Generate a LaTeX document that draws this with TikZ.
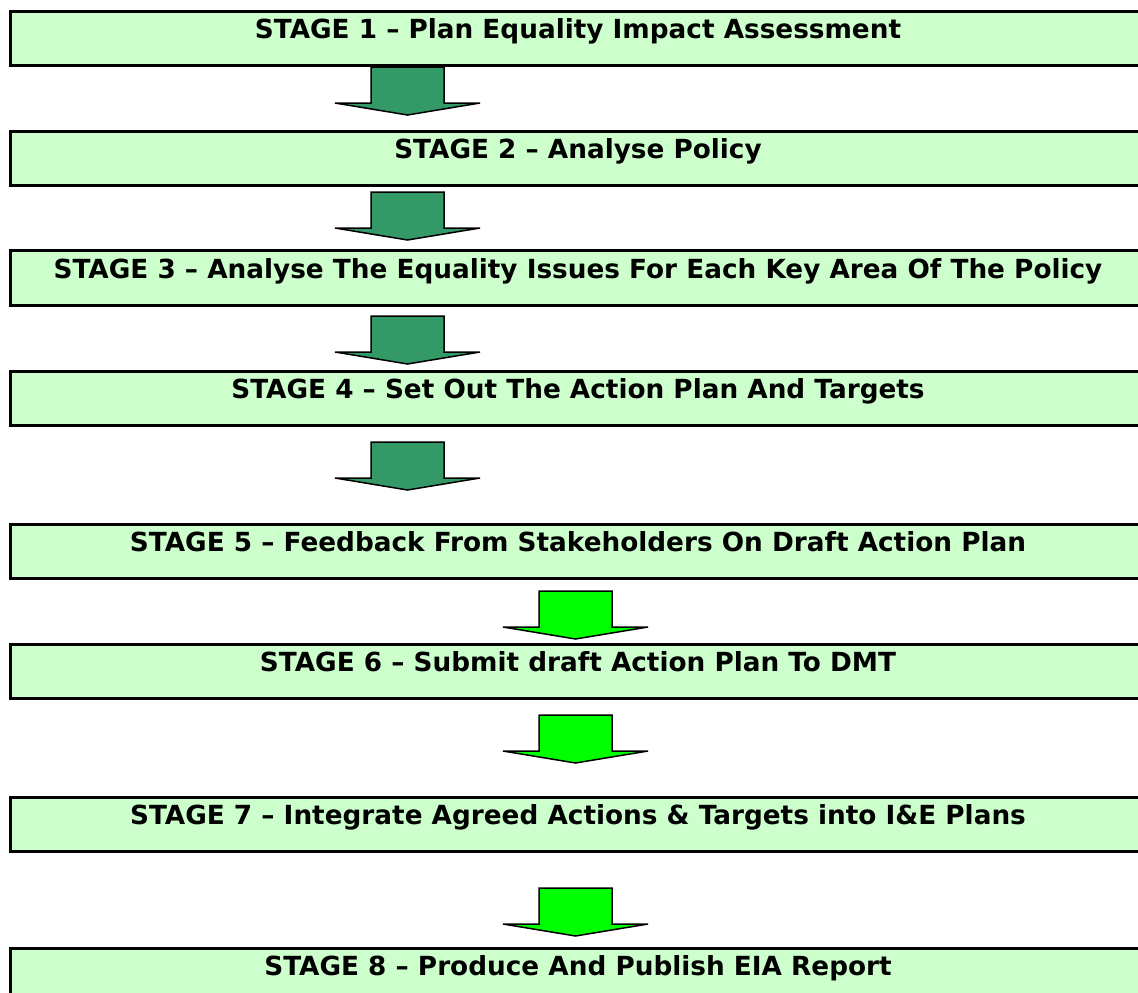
\documentclass[tikz,border=0pt]{standalone}
\usepackage{fontspec}
\setmainfont{DejaVu Sans}
\definecolor{boxfill}{HTML}{CCFFCC}
\definecolor{darkarrow}{HTML}{339966}
\definecolor{brightarrow}{HTML}{00FF00}
\begin{document}
\begin{tikzpicture}[x=1pt,y=-1pt,
  stagebox/.style={draw=black,line width=3pt,fill=boxfill,minimum width=1141pt,minimum height=54pt,inner sep=0pt,anchor=north west},
  stagetext/.style={anchor=base,inner sep=0pt,font=\fontsize{26.3}{30}\selectfont\bfseries},
  blockarrow/.style={draw=black,line width=1.5pt,line join=miter}]
\useasboundingbox (0,0) rectangle (1138,993);
\clip (0,0) rectangle (1138,993);
\fill[white] (0,0) rectangle (1138,993);
% boxes
\node[stagebox] (b1) at (9,10) {};
\node[stagebox] (b2) at (9,130) {};
\node[stagebox,minimum height=55pt] (b3) at (9,249) {};
\node[stagebox] (b4) at (9,370) {};
\node[stagebox] (b5) at (9,523) {};
\node[stagebox] (b6) at (9,643) {};
\node[stagebox] (b7) at (9,796) {};
\node[stagebox] (b8) at (9,947) {};
% texts
\node[stagetext] (t1) at (578,38) {STAGE 1 – Plan Equality Impact Assessment};
\node[stagetext] (t2) at (578,158) {STAGE 2 – Analyse Policy};
\node[stagetext] (t3) at (578,278) {STAGE 3 – Analyse The Equality Issues For Each Key Area Of The Policy};
\node[stagetext] (t4) at (578,398) {STAGE 4 – Set Out The Action Plan And Targets};
\node[stagetext] (t5) at (578,551) {STAGE 5 – Feedback From Stakeholders On Draft Action Plan};
\node[stagetext] (t6) at (578,671) {STAGE 6 – Submit draft Action Plan To DMT};
\node[stagetext] (t7) at (578,824) {STAGE 7 – Integrate Agreed Actions \& Targets into I\&E Plans};
\node[stagetext] (t8) at (578,975) {STAGE 8 – Produce And Publish EIA Report};
% block arrows: {x centre}{top}{colour}
\newcommand{\myblockarrow}[3]{%
  \draw[blockarrow,fill=#3] (#1-36.5,#2) -- (#1+36.5,#2) -- (#1+36.5,#2+36) -- (#1+72.5,#2+36)
    -- (#1,#2+48) -- (#1-72.5,#2+36) -- (#1-36.5,#2+36) -- cycle;}
\myblockarrow{407.5}{67}{darkarrow}
\myblockarrow{407.5}{192}{darkarrow}
\myblockarrow{407.5}{316}{darkarrow}
\myblockarrow{407.5}{442}{darkarrow}
\myblockarrow{575.5}{591}{brightarrow}
\myblockarrow{575.5}{715}{brightarrow}
\myblockarrow{575.5}{888}{brightarrow}
\end{tikzpicture}
\end{document}
